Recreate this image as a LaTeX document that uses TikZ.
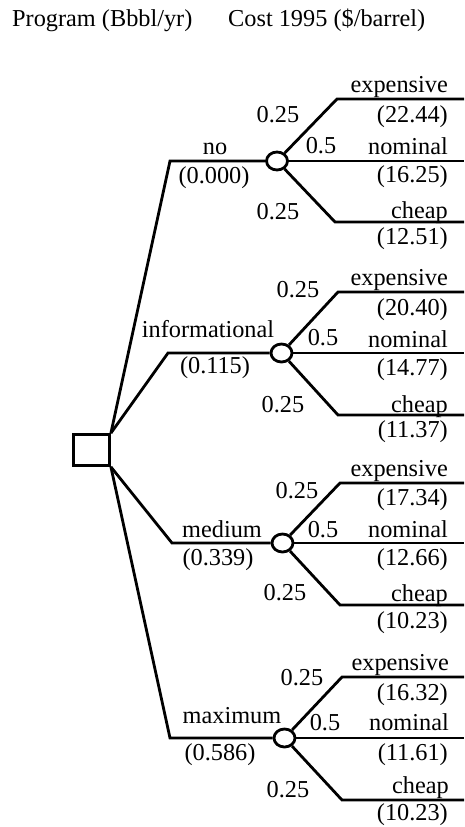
\documentclass[tikz,border=0pt]{standalone}
\usepackage{fontspec}
\setmainfont{Liberation Serif}
\usepackage{tikz}
\usetikzlibrary{shapes.geometric}
\tikzset{
		branch/.style={draw, line width=2.8pt},
		decision/.style={draw, rectangle, line width=2.8pt, minimum width=36pt, minimum height=31pt, inner sep=0pt},
		chance/.style={draw, ellipse, line width=2.8pt, minimum width=21pt, minimum height=18pt, inner sep=0pt},
		lbl/.style={anchor=base, inner sep=0pt},
		outcome/.style={anchor=base east, inner sep=0pt}
	}

\begin{document}
\begin{tikzpicture}[x=1pt, y=-1pt, font=\fontsize{24.3}{28}\selectfont]
				\useasboundingbox (0,0) rectangle (464,827);

				% column headings
				\node[anchor=base west, inner sep=0pt] (hprog) at (12,27)  {Program (Bbbl/yr)};
				\node[anchor=base west, inner sep=0pt] (hcost) at (228,27) {Cost 1995 (\$/barrel)};

				% decision and chance nodes
				\node[decision] (dec)  at (91.5,450) {};
				\node[chance]   (noC)  at (277,161)   {};
				\node[chance]   (infC) at (281.5,353) {};
				\node[chance]   (medC) at (282.5,543) {};
				\node[chance]   (maxC) at (284.5,738) {};

				% corners and ends of the branches
				\coordinate (no1)  at (170,161);
				\coordinate (inf1) at (168,353);
				\coordinate (med1) at (172,543);
				\coordinate (max1) at (170,738);

				\coordinate (noE)  at (337,99);  \coordinate (noEr)  at (464,99);
				\coordinate (noNr) at (464,161);
				\coordinate (noL)  at (335,222); \coordinate (noLr)  at (464,222);

				\coordinate (infE)  at (338,292); \coordinate (infEr) at (464,292);
				\coordinate (infNr) at (464,353);
				\coordinate (infL)  at (338,415); \coordinate (infLr) at (464,415);

				\coordinate (medE)  at (340,483); \coordinate (medEr) at (464,483);
				\coordinate (medNr) at (464,543);
				\coordinate (medL)  at (340,605); \coordinate (medLr) at (464,605);

				\coordinate (maxE)  at (342,677); \coordinate (maxEr) at (464,677);
				\coordinate (maxNr) at (464,738);
				\coordinate (maxL)  at (342,800); \coordinate (maxLr) at (464,800);

				% program branches
				\draw[branch] (dec.north east) -- (no1)  -- (noC);
				\draw[branch] (dec.north east) -- (inf1) -- (infC);
				\draw[branch] (dec.south east) -- (med1) -- (medC);
				\draw[branch] (dec.south east) -- (max1) -- (maxC);

				% cost branches
				\draw[branch] (noC) -- (noE) -- (noEr);
				\draw[branch] (noC) -- (noNr);
				\draw[branch] (noC) -- (noL) -- (noLr);

				\draw[branch] (infC) -- (infE) -- (infEr);
				\draw[branch] (infC) -- (infNr);
				\draw[branch] (infC) -- (infL) -- (infLr);

				\draw[branch] (medC) -- (medE) -- (medEr);
				\draw[branch] (medC) -- (medNr);
				\draw[branch] (medC) -- (medL) -- (medLr);

				\draw[branch] (maxC) -- (maxE) -- (maxEr);
				\draw[branch] (maxC) -- (maxNr);
				\draw[branch] (maxC) -- (maxL) -- (maxLr);

				% no
				\node[lbl]     (noName) at (215,154) {no};
				\node[lbl]     (noVal)  at (214,183) {(0.000)};
				\node[lbl]     (noPe)   at (278,122) {0.25};
				\node[lbl]     (noPn)   at (321,153) {0.5};
				\node[lbl]     (noPl)   at (278,219) {0.25};
				\node[outcome] (noEx)   at (448,92)  {expensive};
				\node[outcome] (noExV)  at (448,122) {(22.44)};
				\node[outcome] (noNo)   at (448,154) {nominal};
				\node[outcome] (noNoV)  at (448,182) {(16.25)};
				\node[outcome] (noCh)   at (448,218) {cheap};
				\node[outcome] (noChV)  at (448,244) {(12.51)};

				% informational
				\node[lbl]     (infName) at (208,337) {informational};
				\node[lbl]     (infVal)  at (215,373) {(0.115)};
				\node[lbl]     (infPe)   at (298,297) {0.25};
				\node[lbl]     (infPn)   at (323,345) {0.5};
				\node[lbl]     (infPl)   at (283,412) {0.25};
				\node[outcome] (infEx)   at (448,285) {expensive};
				\node[outcome] (infExV)  at (448,315) {(20.40)};
				\node[outcome] (infNo)   at (448,347) {nominal};
				\node[outcome] (infNoV)  at (448,375) {(14.77)};
				\node[outcome] (infCh)   at (448,412) {cheap};
				\node[outcome] (infChV)  at (448,437) {(11.37)};

				% medium
				\node[lbl]     (medName) at (222,537) {medium};
				\node[lbl]     (medVal)  at (218,565) {(0.339)};
				\node[lbl]     (medPe)   at (297,498) {0.25};
				\node[lbl]     (medPn)   at (323,537) {0.5};
				\node[lbl]     (medPl)   at (285,600) {0.25};
				\node[outcome] (medEx)   at (448,476) {expensive};
				\node[outcome] (medExV)  at (448,505) {(17.34)};
				\node[outcome] (medNo)   at (448,537) {nominal};
				\node[outcome] (medNoV)  at (448,565) {(12.66)};
				\node[outcome] (medCh)   at (448,601) {cheap};
				\node[outcome] (medChV)  at (448,628) {(10.23)};

				% maximum
				\node[lbl]     (maxName) at (232,723) {maximum};
				\node[lbl]     (maxVal)  at (220,760) {(0.586)};
				\node[lbl]     (maxPe)   at (302,685) {0.25};
				\node[lbl]     (maxPn)   at (325,730) {0.5};
				\node[lbl]     (maxPl)   at (288,797) {0.25};
				\node[outcome] (maxEx)   at (449,670) {expensive};
				\node[outcome] (maxExV)  at (448,700) {(16.32)};
				\node[outcome] (maxNo)   at (449,730) {nominal};
				\node[outcome] (maxNoV)  at (448,760) {(11.61)};
				\node[outcome] (maxCh)   at (449,793) {cheap};
				\node[outcome] (maxChV)  at (448,820) {(10.23)};
			\end{tikzpicture}
\end{document}
